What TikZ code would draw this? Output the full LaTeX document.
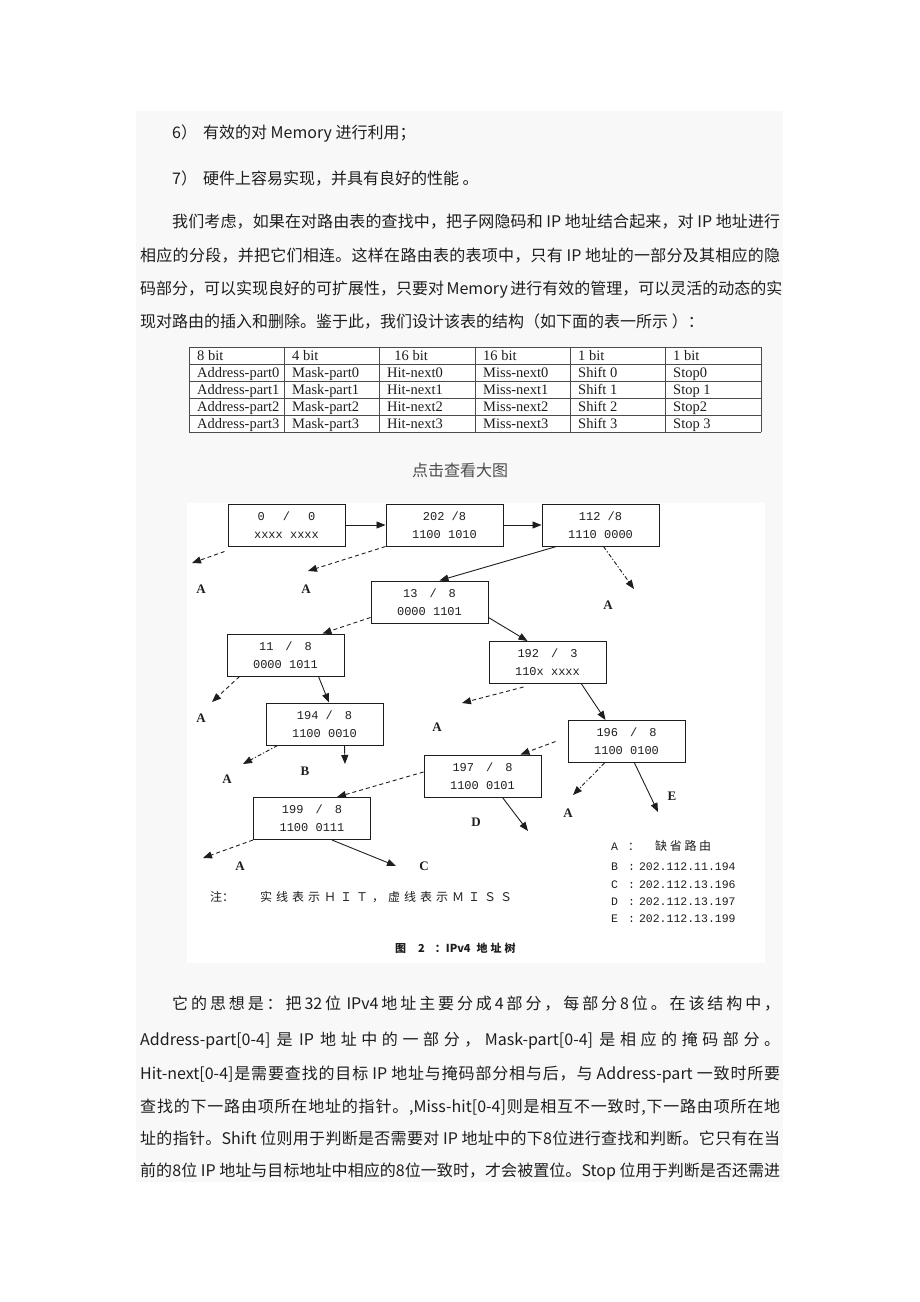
\documentclass[tikz,border=0pt]{standalone}
\usepackage{fontspec}
\setmainfont{Liberation Serif}
\newfontfamily\cjk{Noto Sans CJK SC}
\newfontfamily\monofnt{Liberation Mono}
\usetikzlibrary{arrows.meta}

% stretchable glue between CJK characters, so lines can be justified
\newcount\cjkcode
\cjkcode="3000
\loop
  \XeTeXcharclass\cjkcode=7
  \advance\cjkcode by 1
\ifnum\cjkcode<"A000 \repeat
\cjkcode="FF00
\loop
  \XeTeXcharclass\cjkcode=7
  \advance\cjkcode by 1
\ifnum\cjkcode<"FFF0 \repeat
\XeTeXinterchartokenstate=1
\XeTeXinterchartoks 7 7 = {\hskip0pt plus 3pt\relax}
\XeTeXinterchartoks 0 7 = {\hskip0pt plus 3pt\relax}
\XeTeXinterchartoks 7 0 = {\hskip0pt plus 3pt\relax}

\newcommand{\bodyfont}{\cjk\fontsize{16}{20}\selectfont}
\newcommand{\boxfont}{\monofnt\fontsize{12}{18}\selectfont}
\newcommand{\legfont}{\monofnt\fontsize{11.5}{13}\selectfont}
\newcommand{\leaffont}{\bfseries\fontsize{13}{15}\selectfont}
\newcommand{\cellfont}{\fontsize{14.5}{16}\selectfont}
\newcommand{\fullline}[1]{\makebox[640pt][s]{#1}}
\newcommand{\indline}[1]{\makebox[608pt][s]{#1}}
\newcommand{\gap}{\hspace{12pt}}

\definecolor{pagegray}{HTML}{F8F8F8}
\definecolor{inkc}{HTML}{1E1E1E}

\tikzset{
  body/.style={anchor=base west, inner sep=0pt, font=\bodyfont, text=inkc},
  cell/.style={anchor=base west, inner sep=0pt, font=\cellfont, text=inkc},
  tnode/.style={draw=inkc, line width=1pt, minimum width=117pt, minimum height=42pt,
    inner sep=0pt, align=center, font=\boxfont, text=inkc},
  hit/.style={draw=inkc, line width=0.9pt, -{Triangle[length=9pt,width=7pt]}},
  miss/.style={hit, dash pattern=on 4pt off 3pt},
  missdot/.style={hit, dash pattern=on 4pt off 2pt on 1.2pt off 2pt},
  leaf/.style={font=\leaffont, inner sep=0pt, text=inkc},
  legend/.style={anchor=base west, inner sep=0pt, font=\legfont, text=inkc},
}

\begin{document}
\begin{tikzpicture}[x=1pt, y=-1pt]
    \useasboundingbox (0,0) rectangle (920,1302);
    \fill[white] (0,0) rectangle (920,1302);

    % page area behind the text
    \fill[pagegray] (136,111) rectangle (783,1182);

    % text above the table
    \node[body] (l6) at (172,138) {6）\hspace{6pt}有效的对 Memory 进行利用；};
    \node[body] (l7) at (172,184) {7）\hspace{6pt}硬件上容易实现，并具有良好的性能 。};
    \node[body] (p1) at (172,227) {\indline{我们考虑，如果在对路由表的查找中，把子网隐码和 IP 地址结合起来，对 IP 地址进行}};
    \node[body] (p2) at (140,261) {\fullline{相应的分段，并把它们相连。这样在路由表的表项中，只有 IP 地址的一部分及其相应的隐}};
    \node[body] (p3) at (140,294) {\fullline{码部分，可以实现良好的可扩展性，只要对 Memory 进行有效的管理，可以灵活的动态的实}};
    \node[body] (p4) at (140,327) {现对路由的插入和删除。鉴于此，我们设计该表的结构（如下面的表一所示 ）：};

    % table one
    \fill[white] (189,347) rectangle (761,432);
    \foreach \yy in {347,364,381,398,415,432}
        \draw[inkc!80, line width=0.8pt] (189,\yy) -- (761,\yy);
    \foreach \xx in {189,284.3,379.7,475,570.3,665.7,761}
        \draw[inkc!80, line width=0.8pt] (\xx,347) -- (\xx,432);
    \foreach \r/\ya/\ca/\cb/\cc/\cd/\ce/\cf in {
        0/360/8 bit/4 bit/{\ \ 16 bit}/16 bit/1 bit/1 bit,
        1/377/Address-part0/Mask-part0/Hit-next0/Miss-next0/Shift 0/Stop0,
        2/394/Address-part1/Mask-part1/Hit-next1/Miss-next1/Shift 1/Stop 1,
        3/411/Address-part2/Mask-part2/Hit-next2/Miss-next2/Shift 2/Stop2,
        4/428/Address-part3/Mask-part3/Hit-next3/Miss-next3/Shift 3/Stop 3}{
        \node[cell] (c\r a) at (197,\ya) {\ca};
        \node[cell] (c\r b) at (292,\ya) {\cb};
        \node[cell] (c\r c) at (387,\ya) {\cc};
        \node[cell] (c\r d) at (483,\ya) {\cd};
        \node[cell] (c\r e) at (578,\ya) {\ce};
        \node[cell] (c\r f) at (673,\ya) {\cf};
    }

    \node[font=\cjk\fontsize{16}{18}\selectfont, text=black!70, inner sep=0pt] (more) at (460,470) {点击查看大图};

    % figure 2: the address tree
    \fill[white] (187,503) rectangle (765,963);

    \node[tnode] (n0) at (286.5,525) {0\hspace{18pt}/\hspace{18pt}0\\xxxx xxxx};
    \node[tnode] (n1) at (444.5,525) {202 /8\\1100 1010};
    \node[tnode] (n2) at (600.5,525) {112 /8\\1110 0000};
    \node[tnode] (n3) at (429.5,602) {13\gap/\gap8\\0000 1101};
    \node[tnode] (n4) at (285.5,655) {11\gap/\gap8\\0000 1011};
    \node[tnode] (n5) at (547.5,662.5) {192\gap/\gap3\\110x xxxx};
    \node[tnode] (n6) at (324.5,724) {194 /\gap8\\1100 0010};
    \node[tnode] (n7) at (626.5,741.5) {196\gap/\gap8\\1100 0100};
    \node[tnode] (n8) at (482.5,776) {197\gap/\gap8\\1100 0101};
    \node[tnode] (n9) at (312,818.5) {199\gap/\gap8\\1100 0111};

    % free ends of the arrows
    \coordinate (m0) at (192,563);
    \coordinate (m1) at (308,571);
    \coordinate (m2) at (634,589);
    \coordinate (m4) at (212,702);
    \coordinate (m5) at (462,703);
    \coordinate (m6) at (243,764);
    \coordinate (hb) at (345,764);
    \coordinate (m7) at (573,795);
    \coordinate (he) at (658,812);
    \coordinate (hd) at (528,831);
    \coordinate (m9) at (203,858);
    \coordinate (hc) at (396,866);

    % hit branches (solid)
    \draw[hit] (n0.east) -- (n1.west);
    \draw[hit] (n1.east) -- (n2.west);
    \draw[hit] ([xshift=15pt]n2.south west) -- ([xshift=10pt]n3.north);
    \draw[hit] ([yshift=6pt]n3.south east) -- ([xshift=-20pt]n5.north);
    \draw[hit] ([xshift=92pt]n4.south west) -- ([xshift=4.5pt]n6.north);
    \draw[hit] ([xshift=93pt]n5.south west) -- ([xshift=38pt]n7.north west);
    \draw[hit] ([xshift=79pt]n6.south west) -- (hb);
    \draw[hit] ([xshift=67pt]n7.south west) -- (he);
    \draw[hit] ([xshift=79pt]n8.south west) -- (hd);
    \draw[hit] ([xshift=79pt]n9.south west) -- (hc);

    % miss branches (dashed)
    \draw[miss] ([xshift=-3pt,yshift=-5pt]n0.south west) -- (m0);
    \draw[miss] (n1.south west) -- (m1);
    \draw[missdot] ([xshift=62pt]n2.south west) -- (m2);
    \draw[miss] ([yshift=6pt]n3.south west) -- ([xshift=37pt]n4.north);
    \draw[miss] ([xshift=13pt]n4.south west) -- (m4);
    \draw[miss] ([xshift=35pt,yshift=-3pt]n5.south west) -- (m5);
    \draw[missdot] ([xshift=12pt]n6.south west) -- (m6);
    \draw[miss] ([xshift=-12pt]n7.west) -- ([xshift=38pt]n8.north);
    \draw[missdot] ([xshift=37pt]n7.south west) -- (m7);
    \draw[miss] ([yshift=4pt]n8.west) -- ([xshift=25pt]n9.north);
    \draw[miss] (n9.south west) -- (m9);

    % leaf labels
    \node[leaf] (a0) at (201,589) {A};
    \node[leaf] (a1) at (306,589) {A};
    \node[leaf] (a2) at (608,605) {A};
    \node[leaf] (a4) at (201,718) {A};
    \node[leaf] (a5) at (437,727) {A};
    \node[leaf] (a6) at (227,779) {A};
    \node[leaf] (lb) at (305,771) {B};
    \node[leaf] (a7) at (568,813) {A};
    \node[leaf] (le) at (672,796) {E};
    \node[leaf] (ld) at (476,822) {D};
    \node[leaf] (a9) at (240,866) {A};
    \node[leaf] (lc) at (424,866) {C};

    % legend
    \node[legend] (ka) at (611,850) {A};
    \node[legend] (kac) at (628,850) {\cjk：};
    \node[legend, font=\cjk\fontsize{12}{13}\selectfont] (kat) at (655,850) {\makebox[56pt][s]{缺省路由}};
    \node[legend] (kb) at (611,870) {B\hspace{10pt}:\hspace{4pt}202.112.11.194};
    \node[legend] (kc) at (611,888) {C\hspace{10pt}:\hspace{4pt}202.112.13.196};
    \node[legend] (kd) at (611,905) {D\hspace{10pt}:\hspace{4pt}202.112.13.197};
    \node[legend] (ke) at (611,922) {E\hspace{10pt}:\hspace{4pt}202.112.13.199};

    \node[legend, font=\cjk\fontsize{12}{14}\selectfont] (note) at (210,901)
        {注：\hspace{26pt}\makebox[252pt][s]{实线表示ＨＩＴ，虚线表示ＭＩＳＳ}};
    \node[legend, font=\cjk\bfseries\fontsize{11}{13}\selectfont] (cap) at (395,952)
        {图\hspace{12pt}2\hspace{10pt}：IPv4\hspace{6pt}地\hspace{3pt}址\hspace{3pt}树};

    % text below the figure
    \node[body] (q1) at (172,1009) {\indline{它的思想是：把32位 IPv4地址主要分成4部分，每部分8位。在该结构中，}};
    \node[body] (q2) at (140,1045) {\fullline{Address-part[0-4] 是 IP 地址中的一部分，Mask-part[0-4] 是相应的掩码部分。}};
    \node[body] (q3) at (140,1079) {\fullline{Hit-next[0-4]是需要查找的目标 IP 地址与掩码部分相与后，与 Address-part 一致时所要}};
    \node[body] (q4) at (140,1112) {\fullline{查找的下一路由项所在地址的指针。,Miss-hit[0-4]则是相互不一致时,下一路由项所在地}};
    \node[body] (q5) at (140,1144) {\fullline{址的指针。Shift 位则用于判断是否需要对 IP 地址中的下8位进行查找和判断。它只有在当}};
    \node[body] (q6) at (140,1176) {\fullline{前的8位 IP 地址与目标地址中相应的8位一致时，才会被置位。Stop 位用于判断是否还需进}};
\end{tikzpicture}
\end{document}
